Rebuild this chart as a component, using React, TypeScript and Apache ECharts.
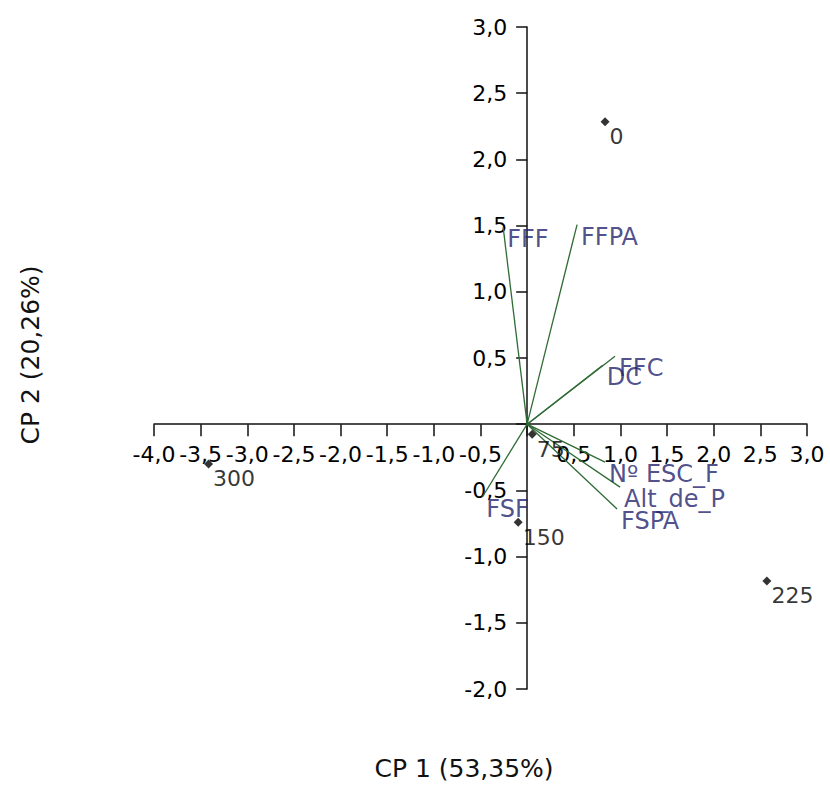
import React, { useEffect, useRef } from "react";
import * as echarts from "echarts";

// Observations (individual scores)
const pointNames = ["0", "75", "150", "225", "300"];
const pointX = [0.835, 0.054, -0.096, 2.57, -3.415];
const pointY = [2.285, -0.075, -0.74, -1.184, -0.3];

// Variable vectors (loadings)
const vectorNames = ["FFF", "FFPA", "FFC", "DC", "Nº ESC_F", "Alt_de_P", "FSPA", "FSF"];
const vectorX = [-0.257, 0.535, 0.942, 0.81, 0.835, 0.996, 0.964, -0.48];
const vectorY = [1.486, 1.508, 0.513, 0.445, -0.287, -0.475, -0.641, -0.55];

// Axes
const xMin = -4, xMax = 3, yMin = -2, yMax = 3, step = 0.5;
const xTitle = "CP 1 (53,35%)";
const yTitle = "CP 2 (20,26%)";

const FONT = "DejaVu Sans";
const GRID = { left: 154, right: 23, top: 27, bottom: 98 };
const W = 830, H = 787;

const fmt = (v: number) => (Math.abs(v) < 1e-9 ? "" : v.toFixed(1).replace(".", ","));

export default function App() {
  const ref = useRef<HTMLDivElement>(null);
  useEffect(() => {
    if (!ref.current) return;
    const chart = echarts.init(ref.current, null, { renderer: "svg" });
    const plotW = W - GRID.left - GRID.right;
    const plotH = H - GRID.top - GRID.bottom;
    // place the axes through the origin
    const yAxisOffset = -((0 - xMin) / (xMax - xMin)) * plotW;
    const xAxisOffset = -((0 - yMin) / (yMax - yMin)) * plotH;
    const lineData = vectorNames.map((n, i) => ({
      coords: [
        [0, 0],
        [vectorX[i], vectorY[i]],
      ],
    }));
    chart.setOption({
      animation: false,
      backgroundColor: "#ffffff",
      grid: GRID,
      xAxis: {
        type: "value",
        min: xMin,
        max: xMax,
        interval: step,
        position: "bottom",
        offset: xAxisOffset,
        splitLine: { show: false },
        axisLine: { onZero: false, lineStyle: { color: "#111", width: 1.5 } },
        axisTick: { length: 12, lineStyle: { color: "#111", width: 1.5 } },
        axisLabel: {
          formatter: fmt,
          fontFamily: FONT,
          fontSize: 22,
          color: "#000",
          margin: 19,
        },
      },
      yAxis: {
        type: "value",
        min: yMin,
        max: yMax,
        interval: step,
        position: "left",
        offset: yAxisOffset,
        splitLine: { show: false },
        axisLine: { onZero: false, lineStyle: { color: "#111", width: 1.5 } },
        axisTick: { length: 11, lineStyle: { color: "#111", width: 1.5 } },
        axisLabel: {
          formatter: fmt,
          fontFamily: FONT,
          fontSize: 22,
          color: "#000",
          margin: 20,
        },
      },
      graphic: [
        {
          type: "text",
          x: 464,
          y: 768,
          style: {
            text: xTitle,
            fontFamily: FONT,
            fontSize: 25,
            fill: "#111",
            align: "center",
            verticalAlign: "middle",
          },
        },
        {
          type: "text",
          x: 30,
          y: 355,
          rotation: Math.PI / 2,
          style: {
            text: yTitle,
            fontFamily: FONT,
            fontSize: 25,
            fill: "#111",
            align: "center",
            verticalAlign: "middle",
          },
        },
      ],
      series: [
        {
          type: "lines",
          coordinateSystem: "cartesian2d",
          data: lineData,
          lineStyle: { color: "#2f6b35", width: 1.3, opacity: 1 },
          silent: true,
          z: 3,
        },
        {
          type: "scatter",
          data: vectorNames.map((n, i) => ({ name: n, value: [vectorX[i], vectorY[i]] })),
          symbolSize: 0,
          label: {
            show: true,
            position: "right",
            distance: 4,
            offset: [0, 12],
            formatter: (p: any) => p.name,
            fontFamily: FONT,
            fontSize: 24,
            color: "#22226e",
          },
          z: 4,
        },
        {
          type: "scatter",
          data: pointNames.map((n, i) => ({ name: n, value: [pointX[i], pointY[i]] })),
          symbol: "diamond",
          symbolSize: 9,
          itemStyle: { color: "#000" },
          label: {
            show: true,
            position: "right",
            distance: 0,
            offset: [0, 15],
            formatter: (p: any) => p.name,
            fontFamily: FONT,
            fontSize: 22,
            color: "#000",
          },
          z: 5,
        },
      ],
    });
    return () => chart.dispose();
  }, []);
  return (
    <div
      ref={ref}
      style={{ position: "fixed", left: 0, top: 0, width: W, height: H, background: "#fff" }}
    />
  );
}
